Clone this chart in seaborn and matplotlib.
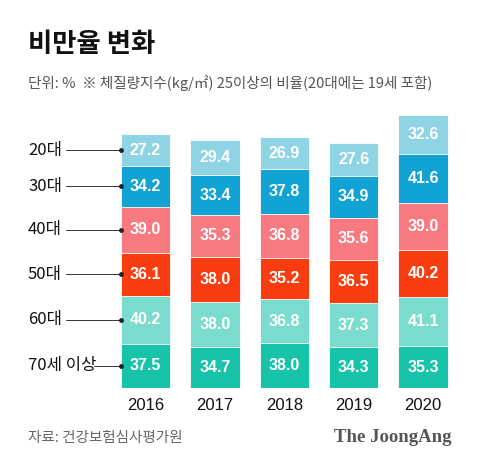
import numpy as np
import pandas as pd
import matplotlib
matplotlib.use("Agg")
import matplotlib.pyplot as plt
import seaborn as sns
from matplotlib.transforms import blended_transform_factory

# data (bottom -> top)
years = ["2016", "2017", "2018", "2019", "2020"]
groups = ["70세 이상", "60대", "50대", "40대", "30대", "20대"]
age70 = [37.5, 34.7, 38.0, 34.3, 35.3]
age60 = [40.2, 38.0, 36.8, 37.3, 41.1]
age50 = [36.1, 38.0, 35.2, 36.5, 40.2]
age40 = [39.0, 35.3, 36.8, 35.6, 39.0]
age30 = [34.2, 33.4, 37.8, 34.9, 41.6]
age20 = [27.2, 29.4, 26.9, 27.6, 32.6]
colors = ["#17c4aa", "#7adccd", "#fa3d10", "#f77a80", "#10a3d4", "#8fd4e5"]

values = [age70, age60, age50, age40, age30, age20]
rows = []
for g, vals in zip(groups, values):
    for y, v in zip(years, vals):
        rows.append({"year": y, "group": g, "value": v})
df = pd.DataFrame(rows)
df["top"] = df.groupby("year")["value"].cumsum()
df["mid"] = df["top"] - df["value"] / 2

sns.set_theme(style="white")
plt.rcParams["font.family"] = ["Noto Sans CJK KR", "DejaVu Sans"]

W, H = 480, 472
fig = plt.figure(figsize=(W / 100, H / 100), dpi=100)
fig.patch.set_facecolor("white")

# axes placed so the bars land where the reference has them
px_per_unit = 69.4
left_px = 145.5 - 0.5 * px_per_unit
right_px = 145.5 + 4.5 * px_per_unit
bottom_px, top_px = 388, 110
ax = fig.add_axes([left_px / W, 1 - bottom_px / H,
                   (right_px - left_px) / W, (bottom_px - top_px) / H])

# draw cumulative bars from the top group down
for g, c in reversed(list(zip(groups, colors))):
    sub = df[df["group"] == g]
    sns.barplot(data=sub, x="year", y="top", color=c, width=0.71,
                errorbar=None, saturation=1, edgecolor="white",
                linewidth=0.6, ax=ax, order=years)

for _, r in df.iterrows():
    ax.text(years.index(r["year"]), r["mid"], f"{r['value']:.1f}",
            ha="center", va="center", color="white", fontsize=11.5,
            fontweight="bold", family=["Liberation Sans", "DejaVu Sans"])

ax.set_xlim(-0.5, 4.5)
ax.set_ylim(0, (bottom_px - top_px) / 1.186)
ax.set_xlabel("")
ax.set_ylabel("")
ax.set_yticks([])
ax.tick_params(axis="x", length=0, pad=7, labelsize=12, labelcolor="#111")
for lab in ax.get_xticklabels():
    lab.set_family(["Liberation Sans", "DejaVu Sans"])
sns.despine(ax=ax, left=True, bottom=True)

# left group labels with leader lines at the 2016 segments
trans = blended_transform_factory(fig.transFigure, ax.transData)
first = df[df["year"] == "2016"]
bar_left = -0.355
for _, r in first.iterrows():
    ax.text(28 / W, r["mid"], r["group"], transform=trans, ha="left",
            va="center", fontsize=12, color="#111")
    start_px = 94 if r["group"] == "70세 이상" else 66
    x0 = (start_px - 145.5) / px_per_unit
    ax.plot([x0, bar_left], [r["mid"], r["mid"]], color="#333",
            lw=0.7, clip_on=False)
    ax.plot([bar_left], [r["mid"]], "o", color="#222", ms=2.5, clip_on=False)

# titles and footer
fig.text(28 / W, 1 - 45 / H, "비만율 변화", fontsize=19, fontweight="bold",
         ha="left", va="center", color="#111")
fig.text(28 / W, 1 - 83 / H,
         "단위: %  ※ 체질량지수(kg/㎡) 25이상의 비율(20대에는 19세 포함)",
         fontsize=10.5, ha="left", va="center", color="#555")
fig.text(28 / W, 1 - 438 / H, "자료: 건강보험심사평가원", fontsize=10.5,
         ha="left", va="center", color="#666")
fig.text(452 / W, 1 - 438 / H, "The JoongAng", fontsize=13.5,
         fontweight="bold", family="Liberation Serif", ha="right", va="center",
         color="#555")

fig.savefig("out.png", dpi=100)
